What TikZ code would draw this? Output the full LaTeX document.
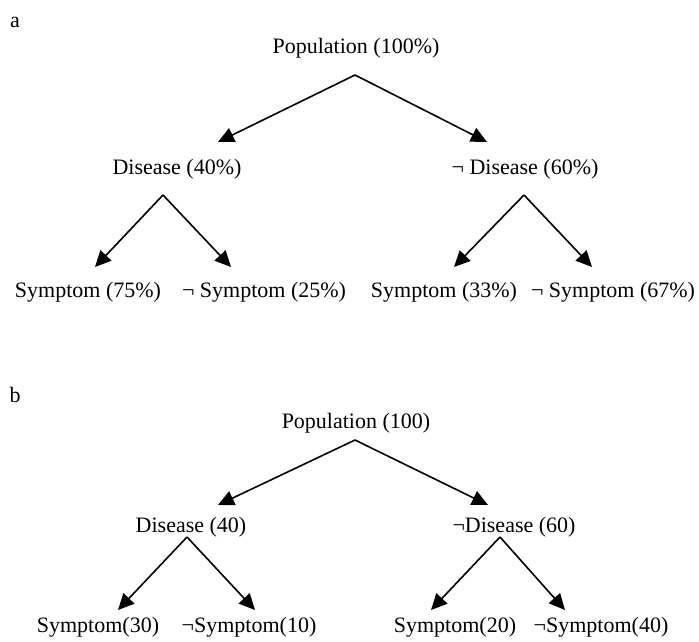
\documentclass[tikz,border=0pt]{standalone}
\usepackage{fontspec}
\setmainfont{Liberation Serif}
\usetikzlibrary{arrows.meta}
\begin{document}
\begin{tikzpicture}[x=1pt,y=-1pt,
  lbl/.style={inner sep=0pt,font=\fontsize{22}{26}\selectfont},
  arr/.style={line width=1.6pt,-{Triangle[length=16pt,width=15pt]}}]
\useasboundingbox (0,0) rectangle (699,641);
% tree a
\node[lbl] (la) at (15,22) {a};
\node[lbl] (pa) at (356,48) {Population (100\%)};
\coordinate (pax) at (355,75);
\coordinate (ta1) at (218,142);
\coordinate (ta2) at (487,142);
\node[lbl] (da) at (177,169) {Disease (40\%)};
\node[lbl] (nda) at (525,169) {¬ Disease (60\%)};
\coordinate (dax) at (163,195);
\coordinate (ndax) at (524,195);
\coordinate (ta3) at (95,267);
\coordinate (ta4) at (231,267);
\coordinate (ta5) at (454,267);
\coordinate (ta6) at (592,267);
\node[lbl] (sa1) at (88,292) {Symptom (75\%)};
\node[lbl] (sa2) at (264,292) {¬ Symptom (25\%)};
\node[lbl] (sa3) at (444,292) {Symptom (33\%)};
\node[lbl] (sa4) at (613,292) {¬ Symptom (67\%)};
\draw[arr] (pax) -- (ta1);
\draw[arr] (pax) -- (ta2);
\draw[arr] (dax) -- (ta3);
\draw[arr] (dax) -- (ta4);
\draw[arr] (ndax) -- (ta5);
\draw[arr] (ndax) -- (ta6);
% tree b
\node[lbl] (lb) at (15,395) {b};
\node[lbl] (pb) at (356,423) {Population (100)};
\coordinate (pbx) at (355,440);
\coordinate (tb1) at (218,505);
\coordinate (tb2) at (488,505);
\node[lbl] (db) at (191,527) {Disease (40)};
\node[lbl] (ndb) at (514,527) {¬Disease (60)};
\coordinate (dbx) at (187,537);
\coordinate (ndbx) at (500,537);
\coordinate (tb3) at (118,610);
\coordinate (tb4) at (255,610);
\coordinate (tb5) at (431,610);
\coordinate (tb6) at (565,610);
\node[lbl] (sb1) at (98,627) {Symptom(30)};
\node[lbl] (sb2) at (249,627) {¬Symptom(10)};
\node[lbl] (sb3) at (455,627) {Symptom(20)};
\node[lbl] (sb4) at (601,627) {¬Symptom(40)};
\draw[arr] (pbx) -- (tb1);
\draw[arr] (pbx) -- (tb2);
\draw[arr] (dbx) -- (tb3);
\draw[arr] (dbx) -- (tb4);
\draw[arr] (ndbx) -- (tb5);
\draw[arr] (ndbx) -- (tb6);
\end{tikzpicture}
\end{document}
